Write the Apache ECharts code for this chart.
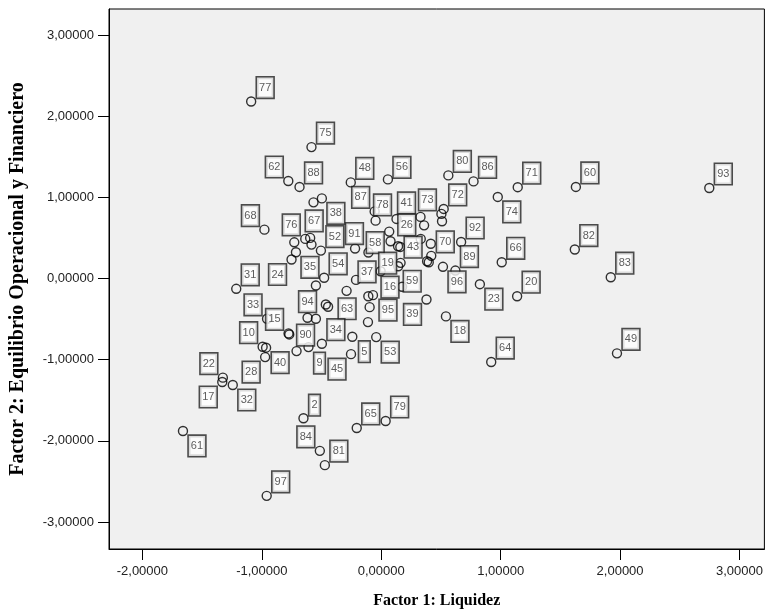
<!DOCTYPE html>
<html>
<head>
<meta charset="utf-8">
<script src="https://cdn.jsdelivr.net/npm/echarts@6/dist/echarts.min.js"></script>
<style>
html,body{margin:0;padding:0;background:#fff;}
#chart{width:766px;height:614px;}
</style>
</head>
<body>
<div id="chart"></div>
<script>
// Case numbers ('' = unlabeled point)
const caseLabels = ['77','75','62','88','48','56','80','86','71','74','60','93','','38','68','87','','78','41','',
  '72','73','','58','','','91','','','26','','92','70','','76','67','','52','35','24',
  '54','','37','','31','33','15','','','63','94','','5','34','9','90','10','40','28','45',
  '22','17','32','61','2','84','81','97','65','79','43','','96','89','66','','59','19','','16',
  '','23','20','39','18','','95','53','64','82','83','49'];
// Factor 1: Liquidez
const factor1 = [-1.089,-0.584,-0.778,-0.684,-0.255,0.056,0.562,0.773,1.143,0.976,1.630,2.747,-0.567,-0.497,-0.978,-0.055,-0.047,0.128,0.329,0.359,
  0.523,0.504,0.509,0.067,0.078,-0.219,-0.107,0.141,0.160,0.331,0.415,0.669,0.419,-0.728,-0.636,-0.595,-0.584,-0.505,-0.714,-0.751,
  -0.478,-0.547,-0.211,-0.290,-1.214,-0.956,-0.776,-0.770,-0.464,-0.445,-0.617,-0.547,-0.242,-0.497,-0.609,-0.709,-0.993,-0.964,-0.972,-0.253,
  -1.326,-1.331,-1.243,-1.660,-0.651,-0.514,-0.472,-0.959,-0.205,0.037,0.384,0.398,0.517,0.621,1.009,0.162,0.142,-0.005,-0.108,-0.069,
  0.175,0.826,1.138,0.379,0.542,-0.097,-0.111,-0.042,0.921,1.621,1.922,1.974];
// Factor 2: Equilibrio Operacional y Financiero
const factor2 = [2.180,1.619,1.201,1.128,1.184,1.221,1.270,1.196,1.125,1.005,1.128,1.115,0.938,0.987,0.602,0.827,0.713,0.734,0.759,0.655,
  0.857,0.796,0.705,0.578,0.459,0.369,0.320,0.397,0.389,0.488,0.428,0.450,0.279,0.446,0.488,0.500,0.418,0.344,0.323,0.234,
  0.009,-0.086,-0.017,-0.152,-0.127,-0.496,-0.676,-0.689,-0.320,-0.348,-0.483,-0.496,-0.717,-0.803,-0.845,-0.894,-0.840,-0.852,-0.968,-0.932,
  -1.221,-1.275,-1.312,-1.878,-1.721,-2.123,-2.299,-2.677,-1.841,-1.755,0.213,0.200,0.144,0.098,0.200,0.193,0.151,0.090,-0.218,-0.205,
  -0.102,-0.070,-0.218,-0.258,-0.467,-0.353,-0.537,-0.722,-1.029,0.357,0.016,-0.922];
const tickValues = [-3,-2,-1,0,1,2,3];
const xTickValues = [-2,-1,0,1,2,3];

// label placement (layout only): default upper-right
const UR=[14,-14], UL=[-14,-14], LR=[14,15], LL=[-14,15];
const labelPlacement = {
  '62':UL,'68':UL,'76':UL,'87':UL,'78':UL,'41':UL,'73':UL,'26':UL,'43':UL,'15':UL,'33':UL,'10':UL,'22':UL,'84':UL,
  '74':LR,'38':LR,'96':LR,'23':LR,'18':LR,'59':LR,'53':LR,'40':LR,'35':LR,'61':LR,'32':LR,'5':[12,15],'9':[11,16],
  '39':LL,'24':LL,'45':LL,'17':LL,'28':LL,'58':[-14,11],
  '67':[4,-17],'91':[-14,-19],'19':[7,-8],'37':[11,-8],'16':[17,-8],'95':[20,-12],'63':[19,2],'90':[9,-16],'94':[0,-16],'2':[11,-13],'56':[14,-12]
};

const data = factor1.map((x,i)=>{
  const lab = caseLabels[i];
  const item = {value:[x, factor2[i]], name: lab};
  if (lab) item.label = {show:true};
  return item;
});

const fmt = v => v.toFixed(5).replace('.', ',');
const chart = echarts.init(document.getElementById('chart'), null, {renderer:'canvas'});
chart.setOption({
  animation:false,
  backgroundColor:'#ffffff',
  grid:{left:109, right:-1, top:9, bottom:64, show:true, backgroundColor:'#f0f0f0', borderColor:'#000', borderWidth:1},
  xAxis:{
    type:'value', min:-2.2794, max:3.2085,
    name:'Factor 1: Liquidez', nameLocation:'middle', nameGap:44,
    nameTextStyle:{fontFamily:'Liberation Serif', fontWeight:'bold', fontSize:16, color:'#000'},
    axisLine:{onZero:false, lineStyle:{color:'#000', width:1}},
    axisTick:{show:true, length:11, customValues:xTickValues, lineStyle:{color:'#000'}},
    axisLabel:{customValues:xTickValues, formatter:fmt, margin:16, fontFamily:'Liberation Sans', fontSize:13, color:'#222'},
    splitLine:{show:false}
  },
  yAxis:{
    type:'value', min:-3.332, max:3.320,
    name:'Factor 2: Equilibrio Operacional y Financiero', nameLocation:'middle', nameGap:81,
    nameTextStyle:{fontFamily:'Liberation Serif', fontWeight:'bold', fontSize:20, color:'#000'},
    axisLine:{onZero:false, lineStyle:{color:'#000', width:1}},
    axisTick:{show:true, length:11, customValues:tickValues, lineStyle:{color:'#000'}},
    axisLabel:{customValues:tickValues, formatter:fmt, margin:15, fontFamily:'Liberation Sans', fontSize:13, color:'#222'},
    splitLine:{show:false}
  },
  series:[{
    type:'scatter',
    symbol:'circle', symbolSize:9,
    itemStyle:{color:'rgba(0,0,0,0)', borderColor:'#000', borderWidth:1.4},
    label:{show:false, position:'inside', formatter:p=>p.name,
      fontFamily:'Liberation Sans', fontSize:11, color:'#333',
      backgroundColor:'#fff', borderColor:'#222', borderWidth:1.6,
      padding:[4,2,3,2], lineHeight:13},
    emphasis:{disabled:true},
    labelLayout: function(p){
      const lab = caseLabels[p.dataIndex];
      const off = labelPlacement[lab] || UR;
      return {dx: off[0], dy: off[1], hideOverlap:false};
    },
    data:data
  }]
});
</script>
</body>
</html>
